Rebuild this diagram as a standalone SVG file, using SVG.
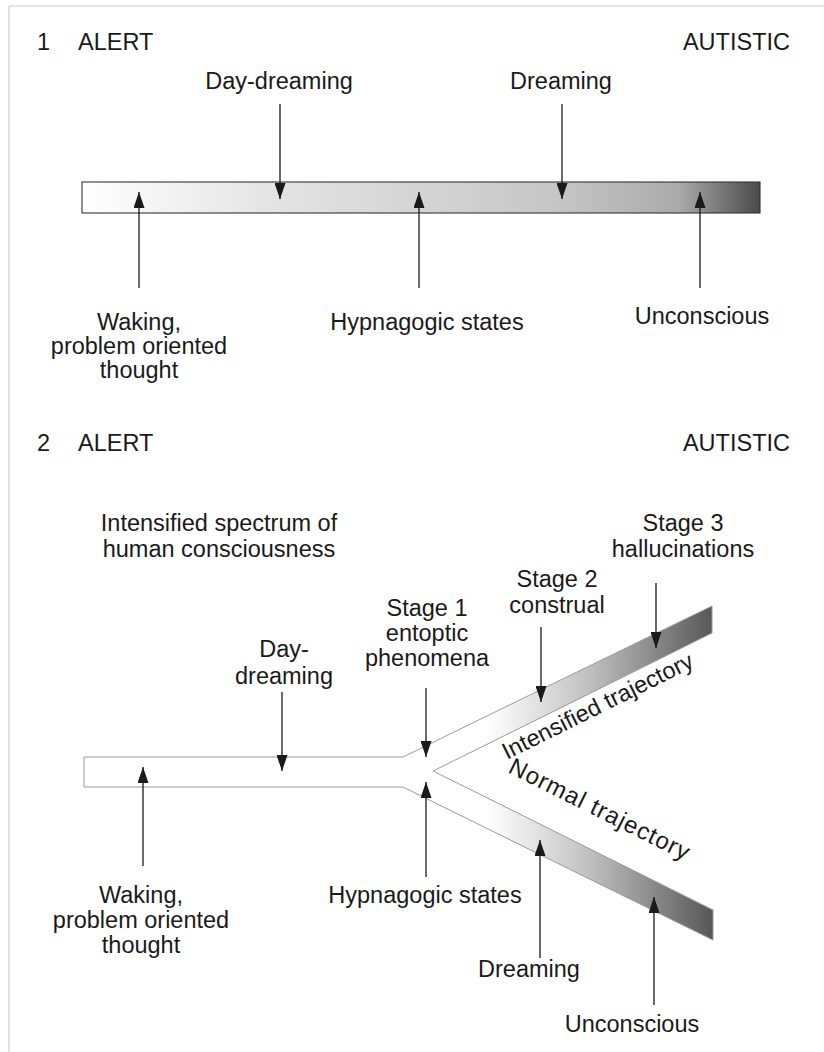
<svg xmlns="http://www.w3.org/2000/svg" width="824" height="1052" viewBox="0 0 824 1052">
<style>
text{font-family:"Liberation Sans",Arial,sans-serif;font-size:23.5px;fill:#1a1a1a}
.c{text-anchor:middle}
.e{text-anchor:end}
.arr{stroke:#1a1a1a;stroke-width:1.3;fill:none;marker-end:url(#ah)}
.frame{stroke:#c8c8c8;stroke-width:1;fill:none}
</style>
<defs>
<marker id="ah" markerUnits="userSpaceOnUse" markerWidth="16" markerHeight="11" refX="16" refY="5.5" orient="auto" viewBox="0 0 16 11">
<path d="M0,0 L16,5.5 L0,11 z" fill="#1a1a1a"/>
</marker>
<linearGradient id="g1" gradientUnits="userSpaceOnUse" x1="82" y1="0" x2="760" y2="0">
<stop offset="0" stop-color="#ffffff"/>
<stop offset="0.3" stop-color="#e2e2e2"/>
<stop offset="0.7" stop-color="#c6c6c6"/>
<stop offset="0.88" stop-color="#aaaaaa"/>
<stop offset="1" stop-color="#4a4a4a"/>
</linearGradient>
<linearGradient id="g2" gradientUnits="userSpaceOnUse" x1="403" y1="0" x2="713" y2="0">
<stop offset="0" stop-color="#ffffff"/>
<stop offset="0.27" stop-color="#ffffff"/>
<stop offset="0.45" stop-color="#dedede"/>
<stop offset="0.6" stop-color="#c0c0c0"/>
<stop offset="0.8" stop-color="#8c8c8c"/>
<stop offset="1" stop-color="#575757"/>
</linearGradient>
</defs>
<rect width="824" height="1052" fill="#ffffff"/>
<path class="frame" d="M9,1052 V6 H824"/>

<g id="panel1-bar">
<rect x="82" y="182" width="678" height="31" fill="url(#g1)" stroke="#333333" stroke-width="1.1"/>
</g>
<g id="panel2-bar">
<path d="M84,757 H403 L712,606 V633 L433,771 L713,910 V940 L403,787 H84 Z" fill="url(#g2)" stroke="#9a9a9a" stroke-width="1"/>
</g>

<g id="panel1-labels">
<text x="37" y="50">1</text>
<text x="78" y="50">ALERT</text>
<text class="e" x="790" y="50">AUTISTIC</text>
</g>
<g id="p1-daydreaming"><text class="c" x="279" y="89">Day-dreaming</text></g>
<g id="p1-dreaming"><text class="c" x="561" y="89">Dreaming</text></g>
<g id="p1-waking"><text class="c" x="139" y="330">Waking,</text><text class="c" x="139" y="354">problem oriented</text><text class="c" x="139" y="378">thought</text></g>
<g id="p1-hypnagogic"><text class="c" x="427" y="330">Hypnagogic states</text></g>
<g id="p1-unconscious"><text class="c" x="702" y="324">Unconscious</text></g>

<g id="panel2-labels">
<text x="37" y="451">2</text>
<text x="78" y="451">ALERT</text>
<text class="e" x="790" y="451">AUTISTIC</text>
<text class="c" x="219" y="531">Intensified spectrum of</text>
<text class="c" x="219" y="557">human consciousness</text>
</g>
<g id="p2-stage3"><text class="c" x="683" y="531">Stage 3</text><text class="c" x="683" y="557">hallucinations</text></g>
<g id="p2-stage2"><text class="c" x="557" y="587">Stage 2</text><text class="c" x="557" y="613">construal</text></g>
<g id="p2-stage1"><text class="c" x="427" y="616">Stage 1</text><text class="c" x="427" y="641">entoptic</text><text class="c" x="427" y="666">phenomena</text></g>
<g id="p2-daydreaming"><text class="c" x="284" y="657">Day-</text><text class="c" x="284" y="684">dreaming</text></g>
<g id="p2-intensified"><text transform="translate(507,760) rotate(-26.5)">Intensified trajectory</text></g>
<g id="p2-normal"><text transform="translate(507,772) rotate(26.5)" style="font-size:24px;letter-spacing:1px">Normal trajectory</text></g>
<g id="p2-waking"><text class="c" x="141" y="903">Waking,</text><text class="c" x="141" y="928">problem oriented</text><text class="c" x="141" y="953">thought</text></g>
<g id="p2-hypnagogic"><text class="c" x="425" y="903">Hypnagogic states</text></g>
<g id="p2-dreaming"><text class="c" x="529" y="977">Dreaming</text></g>
<g id="p2-unconscious"><text class="c" x="632" y="1032">Unconscious</text></g>

<g id="connectors">
<line class="arr" x1="280" y1="104" x2="280" y2="199"/>
<line class="arr" x1="562" y1="104" x2="562" y2="199"/>
<line class="arr" x1="139" y1="288" x2="139" y2="192"/>
<line class="arr" x1="419" y1="288" x2="419" y2="192"/>
<line class="arr" x1="700" y1="288" x2="700" y2="192"/>
<line class="arr" x1="282" y1="692" x2="282" y2="771"/>
<line class="arr" x1="426" y1="688" x2="426" y2="757"/>
<line class="arr" x1="541" y1="627" x2="541" y2="702"/>
<line class="arr" x1="656" y1="583" x2="656" y2="648"/>
<line class="arr" x1="143" y1="866" x2="143" y2="767"/>
<line class="arr" x1="426" y1="877" x2="426" y2="782"/>
<line class="arr" x1="540" y1="958" x2="540" y2="840"/>
<line class="arr" x1="654" y1="1005" x2="654" y2="897"/>
</g>
</svg>
